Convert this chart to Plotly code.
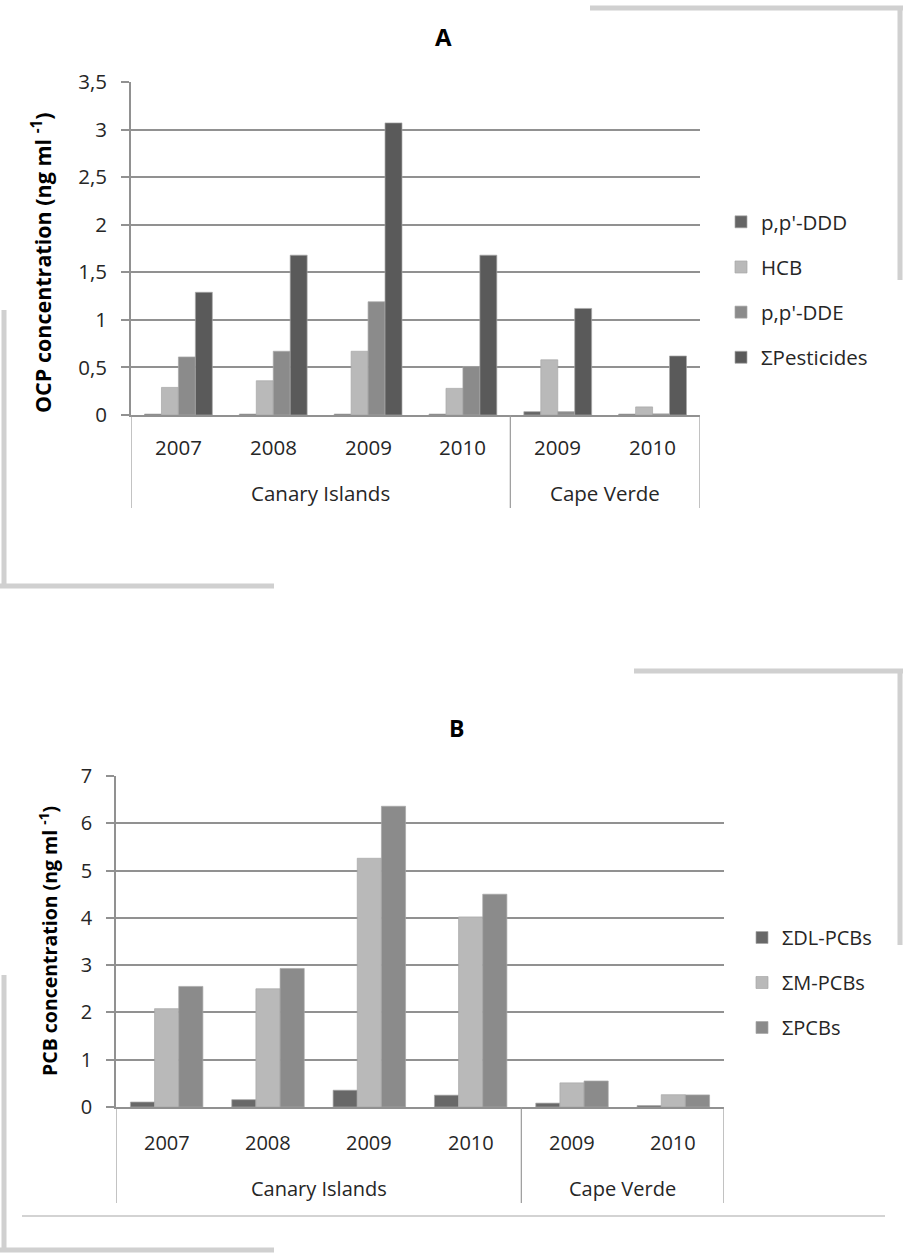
import plotly.graph_objects as go

# ---------------- data ----------------
regions = ["Canary Islands"] * 4 + ["Cape Verde"] * 2
years = ["2007", "2008", "2009", "2010", "2009", "2010"]

ocp_names = ["p,p'-DDD", "HCB", "p,p'-DDE", "ΣPesticides"]
ddd = [0.01, 0.01, 0.01, 0.01, 0.035, 0.01]
hcb = [0.29, 0.36, 0.67, 0.28, 0.58, 0.085]
dde = [0.61, 0.67, 1.19, 0.51, 0.035, 0.012]
sum_pest = [1.29, 1.68, 3.07, 1.68, 1.12, 0.62]
ocp_colors = ["#656565", "#b9b9b9", "#8b8b8b", "#5a5a5a"]

pcb_names = ["ΣDL-PCBs", "ΣM-PCBs", "ΣPCBs"]
dl_pcb = [0.105, 0.155, 0.355, 0.25, 0.082, 0.03]
m_pcb = [2.08, 2.50, 5.26, 4.02, 0.51, 0.26]
sum_pcb = [2.55, 2.93, 6.36, 4.50, 0.55, 0.255]
pcb_colors = ["#686868", "#b9b9b9", "#8b8b8b"]

# ---------------- layout helpers ----------------
W, H = 903, 1254
FONT = "Open Sans, Noto Sans, sans-serif"
TXT = "#262626"
GRID = "#919191"
FS_A = 20.5
FS_B = 20


def px(x):
    return x / W


def py(y):
    return 1 - y / H


xpos = list(range(len(years)))

# group boundaries (in category-index units) derived from the regions list
bounds = [-0.5]
groups = []
start = 0
for i in range(1, len(regions) + 1):
    if i == len(regions) or regions[i] != regions[start]:
        bounds.append(i - 0.5)
        groups.append((regions[start], (start + i - 1) / 2))
        start = i

fig = go.Figure()

for name, vals, col in zip(ocp_names, [ddd, hcb, dde, sum_pest], ocp_colors):
    fig.add_trace(go.Bar(
        x=xpos, y=vals, name=name, xaxis="x", yaxis="y",
        marker=dict(color=col, line=dict(color="#a8a8a8", width=0.7)),
        legend="legend", legendgroup=name,
    ))

for name, vals, col in zip(pcb_names, [dl_pcb, m_pcb, sum_pcb], pcb_colors):
    fig.add_trace(go.Bar(
        x=xpos, y=vals, name=name, xaxis="x2", yaxis="y2",
        marker=dict(color=col, line=dict(color="#a8a8a8", width=0.7)),
        legend="legend2", legendgroup=name,
    ))

xcommon = dict(
    range=[-0.5, len(years) - 0.5], showline=True, linecolor=GRID,
    linewidth=1.8, ticks="", showticklabels=False, showgrid=False,
    zeroline=False, fixedrange=True,
)


def ycommon(fs):
    return dict(
        showgrid=True, gridcolor=GRID, gridwidth=1.8, showline=True,
        linecolor=GRID, linewidth=1.8, ticks="outside", ticklen=8,
        tickcolor=GRID, tickwidth=1.8, zeroline=False, ticklabelstandoff=10,
        tickfont=dict(family=FONT, size=fs, color=TXT), fixedrange=True,
    )


fig.update_layout(
    autosize=True, margin=dict(l=0, r=0, t=0, b=0, autoexpand=False),
    paper_bgcolor="white", plot_bgcolor="white",
    separators=",.", barmode="group", bargap=0.285, bargroupgap=0,
    showlegend=True,
    xaxis=dict(domain=[px(131), px(700)], anchor="y", **xcommon),
    yaxis=dict(domain=[py(415), py(82)], anchor="x", range=[0, 3.5],
               dtick=0.5, **ycommon(FS_A)),
    xaxis2=dict(domain=[px(116), px(724)], anchor="y2", **xcommon),
    yaxis2=dict(domain=[py(1107), py(776)], anchor="x2", range=[0, 7],
                dtick=1, **ycommon(FS_B)),
    legend=dict(x=px(721), y=py(202), xanchor="left", yanchor="top",
                font=dict(family=FONT, size=FS_A, color=TXT),
                tracegroupgap=15.5, itemwidth=30, bgcolor="rgba(0,0,0,0)"),
    legend2=dict(x=px(742), y=py(918), xanchor="left", yanchor="top",
                 font=dict(family=FONT, size=FS_B, color=TXT),
                 tracegroupgap=16, itemwidth=30, bgcolor="rgba(0,0,0,0)"),
)

# category labels, group labels and group dividers for both panels
panels = [
    ("x", 415, 447, 493, 508, FS_A),
    ("x2", 1107, 1142, 1188, 1203, FS_B),
]
for xref, y_axis, y_year, y_group, y_end, fs in panels:
    for xp, yr in zip(xpos, years):
        fig.add_annotation(text=yr, x=xp, y=py(y_year), xref=xref, yref="paper",
                           showarrow=False, xanchor="center", yanchor="middle",
                           font=dict(family=FONT, size=fs, color=TXT))
    for gname, gcenter in groups:
        fig.add_annotation(text=gname, x=gcenter, y=py(y_group), xref=xref,
                           yref="paper", showarrow=False, xanchor="center",
                           yanchor="middle",
                           font=dict(family=FONT, size=fs, color=TXT))
    for b in bounds:
        fig.add_shape(type="line", xref=xref, yref="paper", x0=b, x1=b,
                      y0=py(y_axis), y1=py(y_end),
                      line=dict(color="#9a9a9a", width=1.2))

# axis titles
fig.add_annotation(text="<b>OCP concentration (ng ml <sup>-1</sup>)</b>",
                   x=px(42), y=py(263), xref="paper", yref="paper",
                   textangle=-90, showarrow=False, xanchor="center",
                   yanchor="middle", font=dict(family=FONT, size=21.5, color="black"))
fig.add_annotation(text="<b>PCB concentration (ng ml <sup>-1</sup>)</b>",
                   x=px(48), y=py(941), xref="paper", yref="paper",
                   textangle=-90, showarrow=False, xanchor="center",
                   yanchor="middle", font=dict(family=FONT, size=19.5, color="black"))

# panel titles
fig.add_annotation(text="<b>A</b>", x=px(443), y=py(37), xref="paper", yref="paper",
                   showarrow=False, xanchor="center", yanchor="middle",
                   font=dict(family=FONT, size=24, color="black"))
fig.add_annotation(text="<b>B</b>", x=px(456), y=py(728), xref="paper", yref="paper",
                   showarrow=False, xanchor="center", yanchor="middle",
                   font=dict(family=FONT, size=23, color="black"))

# decorative frame remnants of the original document
FR = "#d0d0d0"
segments = [
    (590, 8, 903, 8), (900, 8, 900, 280),          # top right of A
    (4, 310, 4, 586), (0, 586, 274, 586),          # bottom left of A
    (634, 671, 903, 671), (900, 671, 900, 945),    # top right of B
    (4, 975, 4, 1250), (0, 1250, 274, 1250),       # bottom left of B
]
for x0, y0, x1, y1 in segments:
    fig.add_shape(type="line", xref="paper", yref="paper",
                  x0=px(x0), y0=py(y0), x1=px(x1), y1=py(y1),
                  line=dict(color=FR, width=5))
fig.add_shape(type="line", xref="paper", yref="paper",
              x0=px(22), y0=py(1216), x1=px(885), y1=py(1216),
              line=dict(color="#c4c4c4", width=1.5))

fig.write_html(
    "out.html",
    default_width="100vw",
    default_height="100vh",
    config={"displayModeBar": False, "responsive": True},
    post_script=(
        "document.documentElement.style.margin='0';"
        "document.documentElement.style.overflow='hidden';"
        "document.body.style.margin='0';"
        "document.body.style.overflow='hidden';"
        "var d=document.getElementById('{plot_id}');"
        "d.style.position='fixed';d.style.left='0px';d.style.top='0px';"
        "d.style.width='100vw';d.style.height='100vh';"
        "Plotly.Plots.resize(d);"
    ),
)
